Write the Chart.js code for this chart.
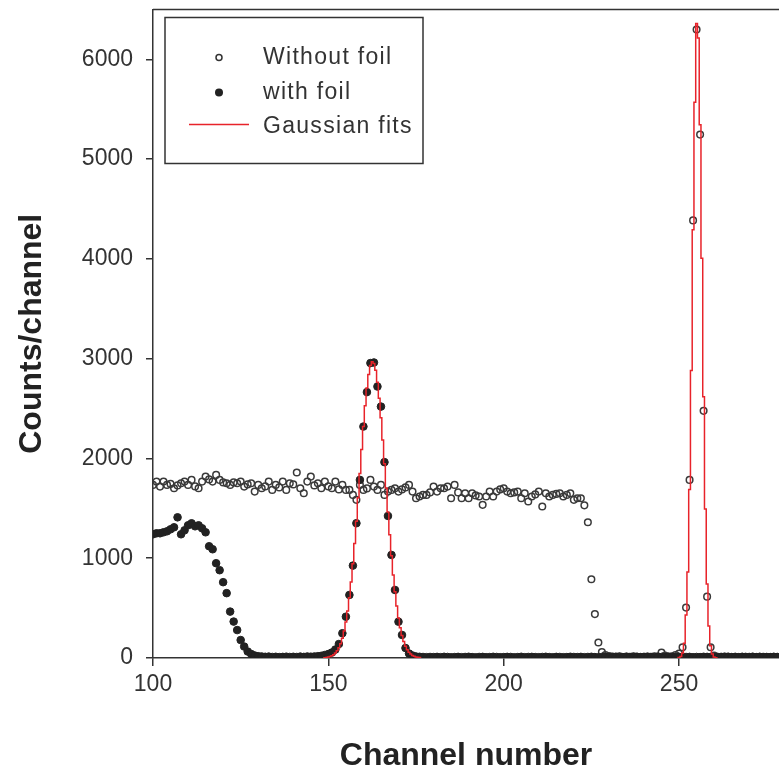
<!DOCTYPE html>
<html>
<head>
<meta charset="utf-8">
<script src="https://cdn.jsdelivr.net/npm/chart.js@4.4.1/dist/chart.umd.min.js"></script>
<style>
  html, body { margin: 0; padding: 0; background: #fff; }
  #wrap { width: 779px; height: 775px; position: relative; }
</style>
</head>
<body>
<div id="wrap"><canvas id="spectrumChart"></canvas></div>
<script>
// Channels 100..278, one count per channel
const FIRST_CHANNEL = 100;
const channels = Array.from({ length: 179 }, (_, i) => FIRST_CHANNEL + i);

// Filled circles (with foil)
const withFoil = [
  1240, 1250, 1250, 1260, 1270, 1290, 1310, 1410, 1240, 1280,
  1330, 1350, 1320, 1330, 1300, 1260, 1120, 1090, 950, 880,
  760, 650, 465, 365, 280, 180, 115, 65, 40, 25,
  18, 15, 12, 14, 10, 12, 9, 11, 13, 10,
  12, 10, 14, 11, 15, 13, 15, 18, 22, 30,
  40, 55, 85, 140, 248, 414, 632, 926, 1351, 1785,
  2320, 2665, 2956, 2962, 2721, 2520, 1963, 1424, 1033, 682,
  364, 231, 100, 45, 25, 15, 12, 10, 8, 10,
  9, 11, 8, 12, 10, 7, 9, 11, 8, 10,
  12, 9, 7, 10, 11, 8, 9, 12, 10, 8,
  9, 11, 10, 7, 9, 12, 8, 10, 11, 9,
  8, 10, 12, 9, 7, 11, 10, 8, 9, 12,
  10, 9, 11, 8, 10, 12, 9, 7, 10, 11,
  9, 8, 12, 10, 9, 11, 8, 10, 12, 9,
  10, 11, 9, 8, 12, 10, 9, 11, 10, 8,
  12, 9, 10, 11, 8, 10, 9, 12, 11, 10,
  9, 8, 11, 10, 12, 9, 10, 8, 11, 9,
  10, 12, 9, 11, 8, 10, 9, 11, 10
];

// Open circles (without foil)
const withoutFoil = [
  1735, 1768, 1718, 1768, 1735, 1745, 1701, 1730, 1751, 1768,
  1735, 1785, 1720, 1701, 1768, 1818, 1790, 1768, 1835, 1785,
  1760, 1751, 1735, 1760, 1751, 1768, 1718, 1740, 1751, 1668,
  1735, 1701, 1720, 1768, 1685, 1735, 1710, 1768, 1685, 1751,
  1740, 1859, 1701, 1651, 1768, 1818, 1730, 1751, 1701, 1768,
  1720, 1701, 1768, 1690, 1735, 1685, 1685, 1635, 1585, 1735,
  1685, 1700, 1785, 1718, 1685, 1735, 1635, 1668, 1685, 1702,
  1668, 1690, 1710, 1735, 1668, 1601, 1618, 1635, 1635, 1660,
  1718, 1668, 1702, 1702, 1718, 1601, 1735, 1660, 1601, 1651,
  1601, 1651, 1630, 1618, 1535, 1618, 1668, 1618, 1668, 1690,
  1702, 1668, 1651, 1660, 1668, 1601, 1651, 1568, 1618, 1640,
  1668, 1518, 1651, 1618, 1635, 1645, 1651, 1618, 1635, 1651,
  1585, 1601, 1601, 1530, 1360, 790, 440, 155, 60, 30,
  20, 15, 12, 18, 10, 14, 11, 16, 12, 10,
  13, 15, 11, 18, 14, 55, 25, 15, 18, 30,
  45, 107, 505, 1785, 4386, 6299, 5246, 2477, 615, 107,
  25, 12, 10, 14, 11, 9, 13, 10, 12, 11,
  9, 12, 10, 11, 13, 10, 9, 12, 10
];

// Gaussian fits, sampled every half channel
const FIT_STEP = 0.5;
const fit1Start = 148.5;
const fit1 = [
  0, 3, 6, 9, 14, 22, 33, 49, 72, 103, 144,
  199, 270, 360, 471, 605, 763, 945, 1148, 1371, 1607,
  1850, 2091, 2320, 2528, 2705, 2842, 2931, 2969, 2953, 2884,
  2765, 2603, 2407, 2185, 1947, 1704, 1464, 1235, 1024, 833,
  665, 522, 402, 304, 226, 165, 118, 83, 57, 39,
  26, 17, 11, 7, 4, 0
];
const fit2Start = 249.5;
const fit2 = [
  0, 5, 15, 50, 149, 430, 862, 1688, 2882, 4292, 5570,
  6360, 6215, 5345, 4007, 2618, 1493, 741, 321, 122, 40,
  11, 3, 0
];

const xTicks = [100, 150, 200, 250];
const yTicks = [0, 1000, 2000, 3000, 4000, 5000, 6000];
const legendLabels = ['Without foil', 'with foil', 'Gaussian fits'];

const AXIS_COLOR = '#333';
const FIT_COLOR = '#e8232a';
const FONT = "'Liberation Sans', Arial, sans-serif";

function toPoints(xs, ys) {
  return ys.map((y, i) => ({ x: xs[i], y: y }));
}
function fitPoints(start, ys) {
  return ys.map((y, i) => ({ x: start + i * FIT_STEP, y: y }));
}

// Top frame line and the boxed legend inside the plot
const frameAndLegend = {
  id: 'frameAndLegend',
  afterDraw(chart) {
    const { ctx, chartArea } = chart;
    ctx.save();
    ctx.strokeStyle = AXIS_COLOR;
    ctx.lineWidth = 1.5;
    ctx.beginPath();
    ctx.moveTo(chartArea.left, chartArea.top);
    ctx.lineTo(chartArea.right, chartArea.top);
    ctx.stroke();

    const bx = chartArea.left + 12;
    const by = chartArea.top + 8;
    const bw = 258, bh = 146;
    ctx.fillStyle = '#fff';
    ctx.fillRect(bx, by, bw, bh);
    ctx.strokeRect(bx, by, bw, bh);

    const markX = bx + 54;
    const textX = bx + 98;
    const rows = [by + 40, by + 75, by + 109];

    // open circle
    ctx.lineWidth = 1.5;
    ctx.beginPath();
    ctx.arc(markX, rows[0], 3, 0, Math.PI * 2);
    ctx.stroke();
    // filled circle
    ctx.fillStyle = '#222';
    ctx.beginPath();
    ctx.arc(markX, rows[1], 4, 0, Math.PI * 2);
    ctx.fill();
    // red line
    ctx.strokeStyle = FIT_COLOR;
    ctx.lineWidth = 1.5;
    ctx.beginPath();
    ctx.moveTo(bx + 24, rows[2] - 2);
    ctx.lineTo(bx + 84, rows[2] - 2);
    ctx.stroke();

    ctx.fillStyle = '#333';
    ctx.font = '23px ' + FONT;
    ctx.letterSpacing = '1.3px';
    ctx.textBaseline = 'middle';
    ctx.textAlign = 'left';
    legendLabels.forEach((label, i) => ctx.fillText(label, textX, rows[i]));
    ctx.restore();
  }
};

const ctx = document.getElementById('spectrumChart').getContext('2d');
new Chart(ctx, {
  type: 'scatter',
  data: {
    datasets: [
      {
        label: 'Gaussian fit 1',
        data: fitPoints(fit1Start, fit1),
        showLine: true,
        stepped: 'middle',
        borderColor: FIT_COLOR,
        borderWidth: 1.5,
        pointRadius: 0,
        order: 0
      },
      {
        label: 'Gaussian fit 2',
        data: fitPoints(fit2Start, fit2),
        showLine: true,
        stepped: 'middle',
        borderColor: FIT_COLOR,
        borderWidth: 1.5,
        pointRadius: 0,
        order: 0
      },
      {
        label: legendLabels[1],
        data: toPoints(channels, withFoil),
        pointRadius: 3.8,
        pointBorderWidth: 1,
        pointBackgroundColor: '#222',
        pointBorderColor: '#222',
        order: 1
      },
      {
        label: legendLabels[0],
        data: toPoints(channels, withoutFoil),
        pointRadius: 3.3,
        pointBorderWidth: 1.5,
        pointBackgroundColor: 'rgba(0,0,0,0)',
        pointBorderColor: '#3a3a3a',
        order: 2
      }
    ]
  },
  options: {
    responsive: true,
    maintainAspectRatio: false,
    animation: false,
    layout: { autoPadding: false, padding: { top: 9.5, right: 0, bottom: 0, left: 0 } },
    plugins: {
      legend: { display: false },
      tooltip: { enabled: false }
    },
    scales: {
      x: {
        type: 'linear',
        min: 100,
        max: 278.5,
        afterFit: (scale) => {
          scale.height = 117;
          scale.paddingLeft = 0;
          scale.paddingRight = 0;
        },
        afterBuildTicks: (scale) => { scale.ticks = xTicks.map(v => ({ value: v })); },
        grid: { display: true, drawOnChartArea: false, tickLength: 8, color: AXIS_COLOR, lineWidth: 1.5 },
        border: { display: true, color: AXIS_COLOR, width: 1.5 },
        ticks: {
          padding: 5,
          color: '#333',
          font: { family: FONT, size: 23 },
          callback: (value) => String(value)
        },
        title: {
          display: true,
          text: 'Channel number',
          color: '#222',
          padding: { top: 0, bottom: 0 },
          font: { family: FONT, size: 32, weight: 'bold' }
        }
      },
      y: {
        type: 'linear',
        min: 0,
        max: 6500,
        afterFit: (scale) => {
          scale.width = 153;
          scale.paddingTop = 0;
          scale.paddingBottom = 0;
        },
        afterBuildTicks: (scale) => { scale.ticks = yTicks.map(v => ({ value: v })); },
        grid: { display: true, drawOnChartArea: false, tickLength: 7, color: AXIS_COLOR, lineWidth: 1.5 },
        border: { display: true, color: AXIS_COLOR, width: 1.5 },
        ticks: {
          padding: 13,
          color: '#333',
          font: { family: FONT, size: 23 },
          callback: (value) => String(value)
        },
        title: {
          display: true,
          text: 'Counts/channel',
          color: '#222',
          padding: { top: 13, bottom: 0 },
          font: { family: FONT, size: 32, weight: 'bold' }
        }
      }
    }
  },
  plugins: [frameAndLegend]
});
</script>
</body>
</html>
